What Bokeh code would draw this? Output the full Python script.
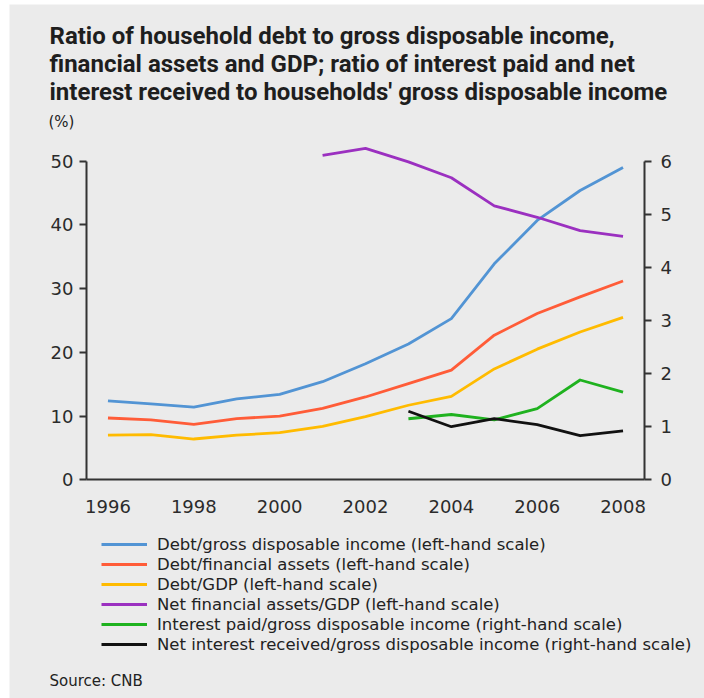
from bokeh.plotting import figure
from bokeh.models import (Range1d, LinearAxis, FixedTicker, Label, Legend, LegendItem)
from bokeh.embed import file_html
from bokeh.resources import INLINE

# ---------------- data ----------------
years = [1996, 1997, 1998, 1999, 2000, 2001, 2002, 2003, 2004, 2005, 2006, 2007, 2008]
debt_gdi = [12.4, 11.9, 11.4, 12.7, 13.4, 15.4, 18.2, 21.3, 25.3, 33.9, 40.7, 45.4, 49.0]
debt_fa = [9.7, 9.4, 8.7, 9.6, 10.0, 11.2, 13.0, 15.1, 17.2, 22.7, 26.1, 28.7, 31.2]
debt_gdp = [7.0, 7.1, 6.4, 7.0, 7.4, 8.4, 9.9, 11.7, 13.1, 17.4, 20.5, 23.2, 25.5]

years_nfa = [2001, 2002, 2003, 2004, 2005, 2006, 2007, 2008]
net_fa_gdp = [50.9, 52.0, 49.9, 47.4, 43.0, 41.2, 39.1, 38.2]

years_int = [2003, 2004, 2005, 2006, 2007, 2008]
int_paid = [1.15, 1.23, 1.13, 1.34, 1.88, 1.65]
net_int = [1.29, 1.00, 1.15, 1.04, 0.83, 0.92]

left_ticks = [0, 10, 20, 30, 40, 50]
right_ticks = [0, 1, 2, 3, 4, 5, 6]
x_ticks = [1996, 1998, 2000, 2002, 2004, 2006, 2008]

title_lines = [
    "Ratio of household debt to gross disposable income,",
    "financial assets and GDP; ratio of interest paid and net",
    "interest received to households' gross disposable income",
]
unit_text = "(%)"
source_text = "Source: CNB"
legend_labels = [
    "Debt/gross disposable income (left-hand scale)",
    "Debt/financial assets (left-hand scale)",
    "Debt/GDP (left-hand scale)",
    "Net financial assets/GDP (left-hand scale)",
    "Interest paid/gross disposable income (right-hand scale)",
    "Net interest received/gross disposable income (right-hand scale)",
]

# ---------------- styling / geometry ----------------
BG = "#ebebeb"
AX = "#333333"
colors = ["#5294d4", "#ff5c38", "#ffbb00", "#9b30c0", "#1fb21f", "#111111"]
TICK_FONT = "DejaVu Sans"

W, H = 695, 694
PX0, PX1 = 77.0, 635.0     # x of 1995.5 and 2008.5
PY0, PY50 = 475.3, 156.7   # y (from top) of value 0 and 50
XMIN, XMAX = 1995.5, 2008.5
LMAX, RMAX = 50.0, 6.0

xs = (PX1 - PX0) / (XMAX - XMIN)
ys = (PY0 - PY50) / LMAX
x_start = XMIN - PX0 / xs
x_end = XMAX + (W - PX1) / xs
y_start = -(H - PY0) / ys
y_end = LMAX + PY50 / ys
k = RMAX / LMAX

p = figure(width=W, height=H, output_backend="svg", toolbar_location=None,
           x_range=Range1d(x_start, x_end), y_range=Range1d(y_start, y_end),
           min_border=0, margin=(4, 0, 0, 9))
p.background_fill_color = BG
p.border_fill_color = BG
p.outline_line_color = None
p.grid.visible = False
p.extra_y_ranges = {"right": Range1d(y_start * k, y_end * k)}

p.xaxis.ticker = FixedTicker(ticks=x_ticks)
p.xaxis.fixed_location = 0
p.xaxis.bounds = (XMIN, XMAX)
p.yaxis.ticker = FixedTicker(ticks=left_ticks)
p.yaxis.fixed_location = XMIN
p.yaxis.bounds = (0, LMAX)
right_axis = LinearAxis(y_range_name="right", ticker=FixedTicker(ticks=right_ticks),
                        fixed_location=XMAX, bounds=(0, RMAX))
p.add_layout(right_axis, "right")

for ax in [p.xaxis[0], p.yaxis[0], right_axis]:
    ax.axis_line_color = AX
    ax.axis_line_width = 2
    ax.major_tick_line_color = AX
    ax.major_tick_line_width = 2
    ax.major_tick_in = 0
    ax.major_tick_out = 7
    ax.minor_tick_line_color = None
    ax.major_label_text_font = TICK_FONT
    ax.major_label_text_font_size = "18px"
    ax.major_label_text_color = "#2b2b2b"
p.xaxis.major_tick_out = 0
p.xaxis.major_label_standoff = 20
p.yaxis.major_label_standoff = 6
right_axis.major_label_standoff = 9

lw = 2.8
r1 = p.line(years, debt_gdi, line_color=colors[0], line_width=lw, line_join="round")
r2 = p.line(years, debt_fa, line_color=colors[1], line_width=lw, line_join="round")
r3 = p.line(years, debt_gdp, line_color=colors[2], line_width=lw, line_join="round")
r4 = p.line(years_nfa, net_fa_gdp, line_color=colors[3], line_width=lw, line_join="round")
r5 = p.line(years_int, int_paid, line_color=colors[4], line_width=lw, line_join="round",
            y_range_name="right")
r6 = p.line(years_int, net_int, line_color=colors[5], line_width=lw, line_join="round",
            y_range_name="right")


def sx(cx):
    return cx - 9


def sy(cy):
    return 698 - cy


legend = Legend(items=[LegendItem(label=l, renderers=[r]) for l, r in
                       zip(legend_labels, [r1, r2, r3, r4, r5, r6])],
                location=(sx(101), sy(654.3)), orientation="vertical",
                glyph_width=46, glyph_height=20, label_height=20, spacing=0,
                padding=0, margin=0, label_standoff=10,
                label_text_font=TICK_FONT, label_text_font_size="16.5px",
                label_text_color="#222222",
                background_fill_alpha=0, border_line_color=None)
p.add_layout(legend)

for i, t in enumerate(title_lines):
    p.add_layout(Label(x=sx(49), y=sy(35 + 28 * i), x_units="screen", y_units="screen",
                       text=t, text_font="Roboto", text_font_style="bold",
                       text_font_size="24px", text_color="#1e1e1e",
                       text_baseline="alphabetic"))
p.add_layout(Label(x=sx(48), y=sy(121), x_units="screen", y_units="screen", text=unit_text,
                   text_font=TICK_FONT, text_font_size="15px", text_color="#222222",
                   text_baseline="middle"))
p.add_layout(Label(x=sx(49), y=sy(680), x_units="screen", y_units="screen", text=source_text,
                   text_font=TICK_FONT, text_font_size="15px", text_color="#222222",
                   text_baseline="middle"))

open("out.html", "w").write(file_html(p, INLINE))
